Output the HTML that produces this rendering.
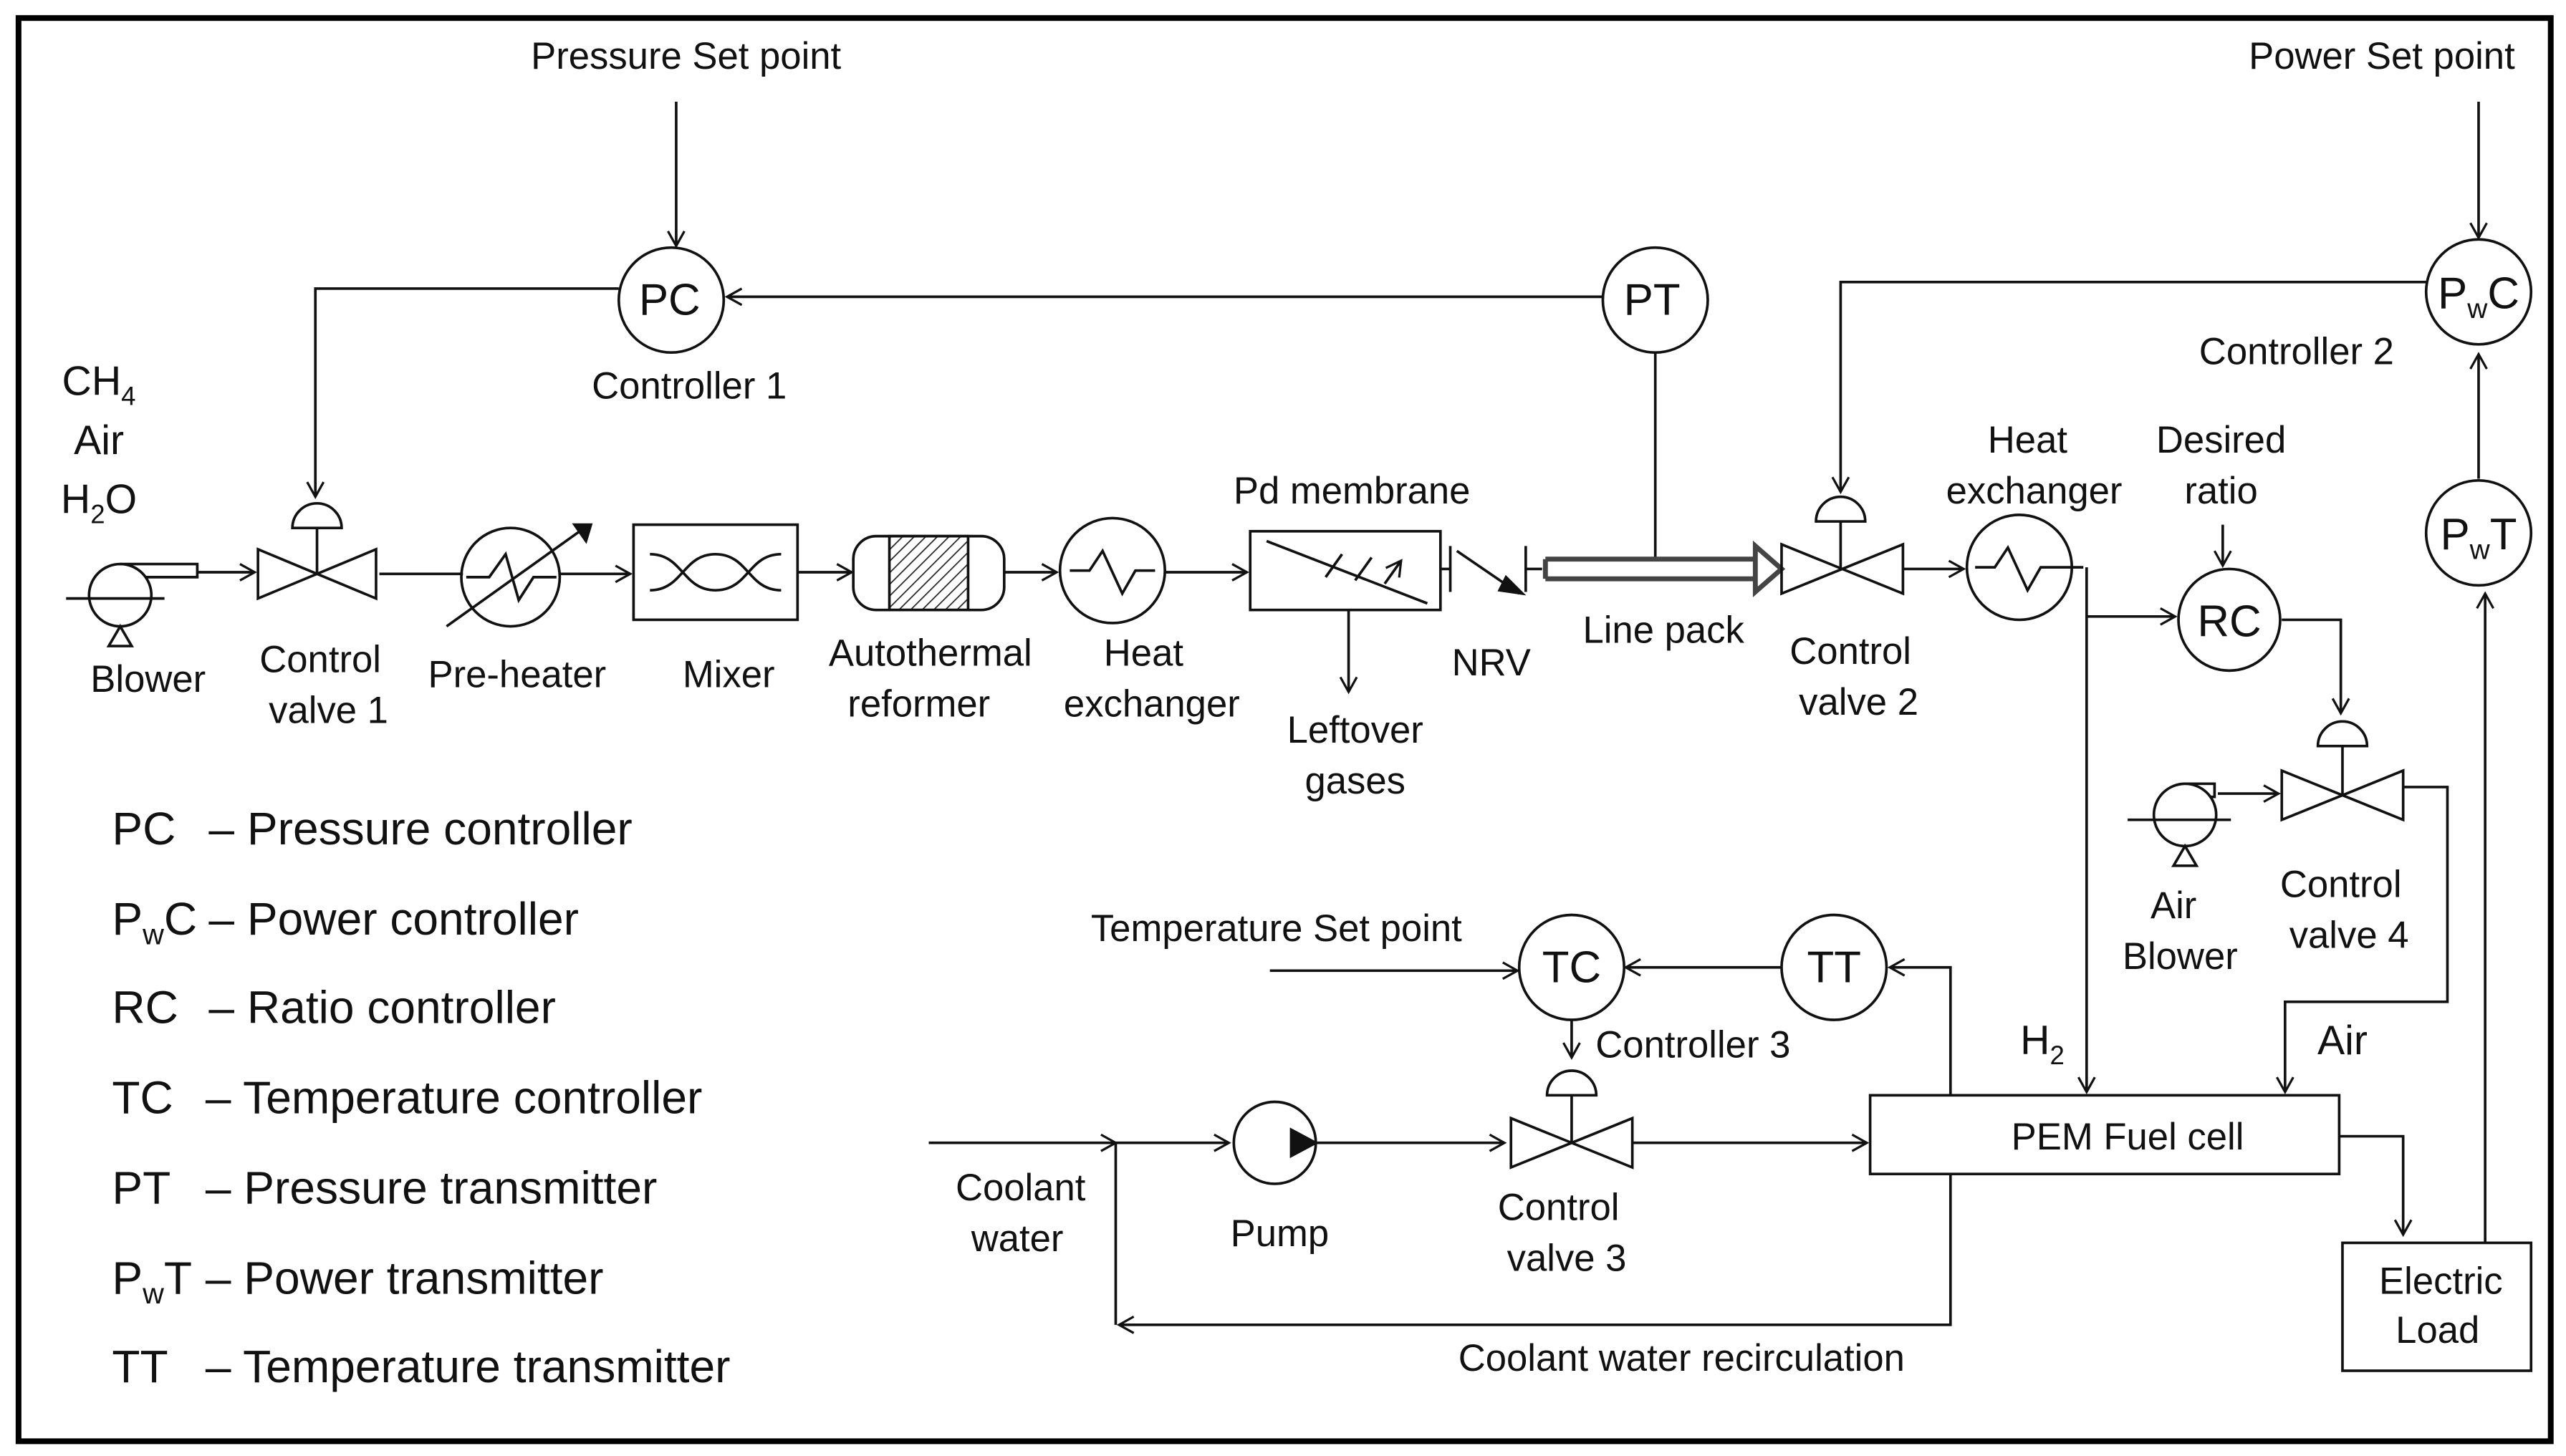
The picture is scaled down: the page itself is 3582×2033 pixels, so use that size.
<!DOCTYPE html>
<html><head><meta charset="utf-8"><style>
html,body{margin:0;padding:0;background:#fff;}
svg{display:block;}
text{font-family:"Liberation Sans",sans-serif;fill:#111;}
</style></head><body>
<svg width="3582" height="2033" viewBox="0 0 1564 888" xmlns="http://www.w3.org/2000/svg">
<defs>
<marker id="a" markerWidth="12" markerHeight="12" refX="10" refY="6" orient="auto" markerUnits="userSpaceOnUse">
<path d="M1,1 L10,6 L1,11" fill="none" stroke="#111" stroke-width="1.4"/></marker>
<pattern id="h" width="5" height="5" patternUnits="userSpaceOnUse" patternTransform="rotate(45)">
<line x1="0" y1="0" x2="0" y2="5" stroke="#222" stroke-width="1.5"/></pattern>
</defs>
<rect x="11" y="11" width="1544" height="868" fill="none" stroke="#000" stroke-width="3.5"/>
<g fill="none" stroke="#111" stroke-width="1.6">
<path d="M412,62 V150" marker-end="url(#a)"/>
<circle cx="409" cy="183" r="32" fill="#fff"/>
<circle cx="1009" cy="183" r="32" fill="#fff"/>
<path d="M977,181 H443" marker-end="url(#a)"/>
<path d="M377,176 H192 V303" marker-end="url(#a)"/>
<path d="M1009,215 V340"/>
<circle cx="73" cy="363" r="19"/>
<path d="M73,344 H120 V352 H88"/>
<path d="M40,365 H100 M73,382 L66,394 H80 Z"/>
<path d="M120,349 H155" marker-end="url(#a)"/>
<path d="M157,335 L229,365 V335 L157,365 Z"/>
<path d="M193,350 V322"/><path d="M178,322 A15,15 0 0 1 208,322 Z" fill="#fff"/>
<path d="M231,350 H282"/>
<circle cx="311" cy="352" r="30"/>
<path d="M284,352 L298,352 L308,338 L316,366 L325,352 L339,352"/>
<path d="M272,382 L356,322" /><path d="M350,320 L360,320 L357,330 Z" fill="#111"/>
<path d="M341,350 H384" marker-end="url(#a)"/>
<rect x="386" y="320" width="100" height="58"/>
<path d="M396,338 C416,338 416,360 436,360 C456,360 456,338 476,338 M396,360 C416,360 416,338 436,338 C456,338 456,360 476,360"/>
<path d="M486,349 H519" marker-end="url(#a)"/>
<rect x="520" y="327" width="92" height="45" rx="14"/>
<rect x="542" y="327" width="48" height="45" fill="url(#h)"/>
<path d="M612,349 H644" marker-end="url(#a)"/>
<circle cx="678" cy="348" r="32"/>
<path d="M652,348 L664,348 L672,336 L684,362 L692,348 L704,348"/>
<path d="M710,349 H760" marker-end="url(#a)"/>
<rect x="762" y="324" width="116" height="48"/>
<path d="M772,330 L870,368"/>
<path d="M808,352 L818,338 M826,354 L836,340 M844,356 L854,342" marker-end="url(#a)"/>
<path d="M822,372 V422" marker-end="url(#a)"/>
<path d="M878,347 H884 M884,333 V361 M888,336 L926,362 M930,333 V361 M930,347 H940"/>
<path d="M918,352 L928,362 L914,360 Z" fill="#111"/>
<path d="M942,341 H1072 M942,353 H1072 M942,341 V353" stroke-width="3" stroke="#444"/>
<path d="M1070,333 L1086,347 L1070,361 Z" fill="#fff" stroke="#444" stroke-width="3"/>
<path d="M1086,332 L1160,362 V332 L1086,362 Z"/>
<path d="M1122,347 V318"/><path d="M1107,318 A15,15 0 0 1 1137,318 Z" fill="#fff"/>
<path d="M1479,172 H1122 V300" marker-end="url(#a)"/>
<path d="M1160,347 H1197" marker-end="url(#a)"/>
<circle cx="1231" cy="346" r="32"/>
<path d="M1204,346 L1216,346 L1224,334 L1236,360 L1244,346 L1270,346"/>
<path d="M1272,346 V666" marker-end="url(#a)"/>
<path d="M1272,376 H1326" marker-end="url(#a)"/>
<circle cx="1359" cy="378" r="31"/>
<path d="M1355,320 V345" marker-end="url(#a)"/>
<path d="M1391,378 H1427 V435" marker-end="url(#a)"/>
<path d="M1391,470 L1465,500 V470 L1391,500 Z"/>
<path d="M1428,485 V455"/><path d="M1413,455 A15,15 0 0 1 1443,455 Z" fill="#fff"/>
<circle cx="1332" cy="497" r="19"/>
<path d="M1332,478 H1350 V486 H1347"/>
<path d="M1297,500 H1360 M1332,516 L1325,528 H1339 Z"/>
<path d="M1352,484 H1389" marker-end="url(#a)"/>
<path d="M1465,480 H1492 V611 H1393 V666" marker-end="url(#a)"/>
<rect x="1140" y="668" width="286" height="48"/>
<path d="M1426,693 H1465 V753" marker-end="url(#a)"/>
<rect x="1428" y="758" width="115" height="78"/>
<path d="M1515,758 V362" marker-end="url(#a)"/>
<circle cx="1511" cy="325" r="32"/>
<path d="M1511,292 V216" marker-end="url(#a)"/>
<circle cx="1511" cy="178" r="32" fill="#fff"/>
<path d="M1511,62 V145" marker-end="url(#a)"/>
<path d="M774,592 H925" marker-end="url(#a)"/>
<circle cx="958" cy="590" r="32"/>
<circle cx="1118" cy="590" r="32"/>
<path d="M1086,590 H991" marker-end="url(#a)"/>
<path d="M1189,668 V590 H1152" marker-end="url(#a)"/>
<path d="M958,622 V645" marker-end="url(#a)"/>
<path d="M921,682 L995,712 V682 L921,712 Z"/>
<path d="M958,697 V668"/><path d="M943,668 A15,15 0 0 1 973,668 Z" fill="#fff"/>
<path d="M566,697 H680" marker-end="url(#a)"/>
<path d="M680,697 H749" marker-end="url(#a)"/>
<circle cx="777" cy="697" r="25"/>
<path d="M787,689 L802,697 L787,705 Z" fill="#111"/>
<path d="M802,697 H917" marker-end="url(#a)"/>
<path d="M995,697 H1138" marker-end="url(#a)"/>
<path d="M1189,716 V808 H682" marker-end="url(#a)"/>
<path d="M680,808 V697"/>
</g>
<g font-size="23" text-anchor="middle">
<text x="418" y="42">Pressure Set point</text>
<text x="1452" y="42">Power Set point</text>
<text x="408" y="192" font-size="27">PC</text>
<text x="1007" y="192" font-size="27">PT</text>
<text x="1511" y="188" font-size="27">P<tspan font-size="17" dy="6">w</tspan><tspan dy="-6">C</tspan></text>
<text x="1511" y="335" font-size="27">P<tspan font-size="17" dy="6">w</tspan><tspan dy="-6">T</tspan></text>
<text x="1359" y="388" font-size="27">RC</text>
<text x="958" y="599" font-size="27">TC</text>
<text x="1118" y="599" font-size="27">TT</text>
<text x="420" y="243">Controller 1</text>
<text x="1400" y="222">Controller 2</text>
<text x="1032" y="645">Controller 3</text>
<text x="60" y="241" font-size="25">CH<tspan font-size="16" dy="6">4</tspan></text>
<text x="60" y="277" font-size="25">Air</text>
<text x="60" y="313" font-size="25">H<tspan font-size="16" dy="6">2</tspan><tspan dy="-6">O</tspan></text>
<text x="90" y="422">Blower</text>
<text x="195" y="410">Control</text><text x="200" y="441">valve 1</text>
<text x="315" y="419">Pre-heater</text>
<text x="444" y="419">Mixer</text>
<text x="567" y="406">Autothermal</text><text x="560" y="437">reformer</text>
<text x="697" y="406">Heat</text><text x="702" y="437">exchanger</text>
<text x="824" y="307">Pd membrane</text>
<text x="826" y="453">Leftover</text><text x="826" y="484">gases</text>
<text x="909" y="412">NRV</text>
<text x="1014" y="392">Line pack</text>
<text x="1128" y="405">Control</text><text x="1133" y="436">valve 2</text>
<text x="1236" y="276">Heat</text><text x="1240" y="307">exchanger</text>
<text x="1354" y="276">Desired</text><text x="1354" y="307">ratio</text>
<text x="1325" y="560">Air</text><text x="1329" y="591">Blower</text>
<text x="1427" y="547">Control</text><text x="1432" y="578">valve 4</text>
<text x="1245" y="643" font-size="25">H<tspan font-size="16" dy="6">2</tspan></text>
<text x="1428" y="643" font-size="25">Air</text>
<text x="1297" y="701">PEM Fuel cell</text>
<text x="1488" y="789">Electric</text><text x="1486" y="819">Load</text>
<text x="778" y="574">Temperature Set point</text>
<text x="622" y="732">Coolant</text><text x="620" y="763">water</text>
<text x="780" y="760">Pump</text>
<text x="950" y="744">Control</text><text x="955" y="775">valve 3</text>
<text x="1025" y="836">Coolant water recirculation</text>
</g>
<g font-size="28">
<text x="68" y="515">PC</text><text x="127" y="515">– Pressure controller</text>
<text x="68" y="570">P<tspan font-size="18" dy="6">w</tspan><tspan dy="-6">C</tspan></text><text x="127" y="570">– Power controller</text>
<text x="68" y="624">RC</text><text x="127" y="624">– Ratio controller</text>
<text x="68" y="679">TC</text><text x="125" y="679">– Temperature controller</text>
<text x="68" y="734">PT</text><text x="125" y="734">– Pressure transmitter</text>
<text x="68" y="789">P<tspan font-size="18" dy="6">w</tspan><tspan dy="-6">T</tspan></text><text x="125" y="789">– Power transmitter</text>
<text x="68" y="843">TT</text><text x="125" y="843">– Temperature transmitter</text>
</g>
</svg>
</body></html>
